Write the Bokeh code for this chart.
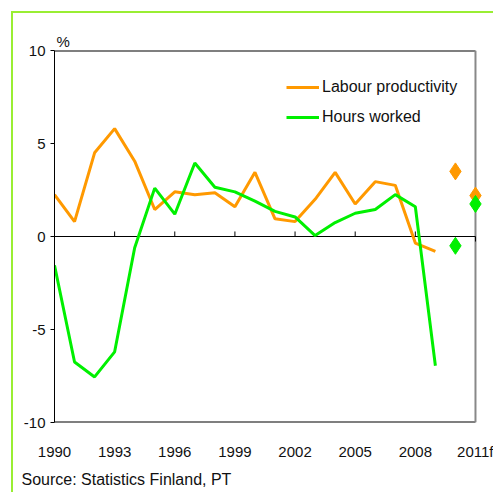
from bokeh.plotting import figure
from bokeh.models import (FixedTicker, Legend, LegendItem, Range1d, Title)
from bokeh.embed import file_html
from bokeh.resources import INLINE

years = list(range(1990, 2010))
productivity = [2.25, 0.8, 4.5, 5.8, 4.05, 1.45, 2.4, 2.25, 2.35, 1.6,
                3.45, 0.95, 0.8, 2.0, 3.45, 1.75, 2.95, 2.75, -0.35, -0.8]
hours = [-1.55, -6.75, -7.55, -6.2, -0.6, 2.6, 1.2, 3.95, 2.65, 2.4,
         1.9, 1.35, 1.05, 0.05, 0.75, 1.25, 1.45, 2.25, 1.6, -6.95]
forecast_years = [2010, 2011]
productivity_f = [3.5, 2.2]
hours_f = [-0.5, 1.75]
x_ticks = [1990, 1993, 1996, 1999, 2002, 2005, 2008, 2011]
x_tick_labels = {2011: "2011f"}
y_ticks = [-10, -5, 0, 5, 10]
y_tick_labels = {-10: "-10", -5: "-5"}
x_first, x_last = 1990, 2011
y_min, y_max = -10, 10

ORANGE = "#ff9900"
GREEN = "#00f000"
FONT = "Liberation Sans"
TXT = "#111111"

p = figure(width=482, height=481, output_backend="svg", toolbar_location=None,
           x_range=Range1d(x_first, x_last + 0.5), y_range=Range1d(y_min, y_max),
           min_border_left=41, min_border_right=10, min_border_top=37,
           min_border_bottom=72)
p.styles = {"border-top": "2px solid #99ee33", "border-left": "2px solid #99ee33",
            "margin": "11px 0 0 11px"}
p.grid.visible = False
p.outline_line_color = None

# title "%"
p.title.text = "%"
p.title.align = "left"
p.title.offset = 2
p.title.standoff = 2
p.title.text_font = FONT
p.title.text_font_size = "15px"
p.title.text_font_style = "normal"
p.title.text_color = TXT

# axes
p.xaxis.ticker = FixedTicker(ticks=x_ticks)
p.xaxis.major_label_overrides = x_tick_labels
p.xaxis.major_tick_out = 0
p.xaxis.major_tick_in = 0
p.xaxis.minor_tick_line_color = None
p.xaxis.major_label_standoff = 20
p.xaxis.axis_line_color = None
p.yaxis.ticker = FixedTicker(ticks=y_ticks)
p.yaxis.major_label_overrides = y_tick_labels
p.yaxis.major_tick_out = 4
p.yaxis.major_tick_in = 0
p.yaxis.minor_tick_line_color = None
p.yaxis.major_label_standoff = 5
p.yaxis.axis_line_color = "black"
for ax in (p.xaxis, p.yaxis):
    ax.major_label_text_font = FONT
    ax.major_label_text_font_size = "15px"
    ax.major_label_text_color = TXT

# frame: top / bottom black, right grey
p.segment(x0=[x_first, x_first], y0=[y_min, y_max], x1=[x_last, x_last],
          y1=[y_min, y_max], line_color="black", line_width=2)
p.segment(x0=[x_last], y0=[y_min], x1=[x_last], y1=[y_max],
          line_color="#888888", line_width=2)
# zero line
p.segment(x0=[x_first], y0=[0], x1=[x_last], y1=[0], line_color="black", line_width=1)
# ticks on the zero line
p.segment(x0=x_ticks[1:-1], y0=[0] * (len(x_ticks) - 2), x1=x_ticks[1:-1],
          y1=[0.27] * (len(x_ticks) - 2), line_color="black", line_width=1)
p.segment(x0=[x_last], y0=[0], x1=[x_last], y1=[-0.27], line_color="black", line_width=1)

r1 = p.line(years, productivity, line_color=ORANGE, line_width=3)
r2 = p.line(years, hours, line_color=GREEN, line_width=3)
p.scatter(forecast_years, productivity_f, marker="diamond", size=17,
          fill_color=ORANGE, line_color=ORANGE)
p.scatter(forecast_years, hours_f, marker="diamond", size=17,
          fill_color=GREEN, line_color=GREEN)

legend = Legend(items=[LegendItem(label="Labour productivity", renderers=[r1]),
                       LegendItem(label="Hours worked", renderers=[r2])],
                location=(232, 295), padding=0, margin=0, spacing=10,
                glyph_width=33, glyph_height=20, label_height=20,
                label_standoff=3, border_line_color=None,
                background_fill_alpha=0,
                label_text_font=FONT, label_text_font_size="16px",
                label_text_color=TXT)
p.add_layout(legend)

src = Title(text="Source: Statistics Finland, PT", align="left", offset=-33,
            standoff=12, text_font=FONT, text_font_size="16px",
            text_font_style="normal", text_color=TXT)
p.add_layout(src, "below")

open("out.html", "w").write(file_html(p, INLINE))
